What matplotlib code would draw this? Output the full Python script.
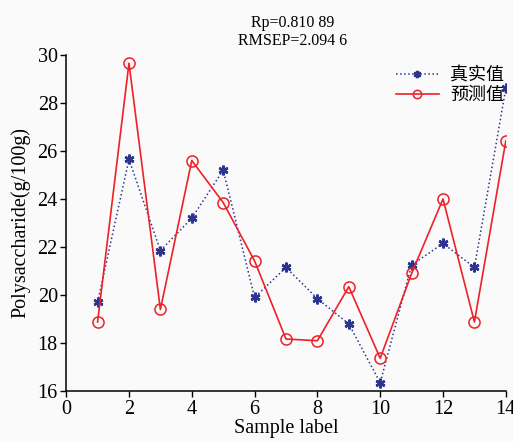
import matplotlib.pyplot as plt

# ── data ──────────────────────────────────────────────────────────────────────
samples = list(range(1, 15))
true_vals = [19.7, 25.65, 21.85, 23.2, 25.2, 19.9, 21.15, 19.85, 18.8, 16.35,
             21.25, 22.15, 21.15, 28.6]
pred_vals = [18.88, 29.65, 19.4, 25.6, 23.85, 21.42, 18.17, 18.1, 20.35, 17.37,
             20.9, 24.0, 18.88, 26.42]
legend_labels = ['真实值', '预测值']
stats_text = 'Rp=0.810 89\nRMSEP=2.094 6'

BLUE = '#2b3590'
RED = '#ee2028'
BG = '#fafafa'
FONT = ['Liberation Serif', 'Noto Sans CJK SC']

plt.rcParams['font.family'] = FONT

fig = plt.figure(figsize=(5.13, 4.42), dpi=100, facecolor=BG)
ax = fig.add_axes([0.129, 0.115, 0.857, 0.761])
ax.set_facecolor(BG)

ax.plot(samples, true_vals, linestyle=':', color=BLUE, lw=1.1,
        marker=(6, 2, 0), markersize=7, markeredgewidth=1.8,
        markeredgecolor=BLUE, label=legend_labels[0])
ax.plot(samples, pred_vals, linestyle='-', color=RED, lw=1.2,
        marker='o', markersize=8, markerfacecolor='none',
        markeredgecolor=RED, markeredgewidth=1.1, label=legend_labels[1])

ax.set_xlim(0, 14)
ax.set_ylim(16, 30)
ax.set_xticks(range(0, 15, 2))
ax.set_yticks(range(16, 31, 2))
ax.tick_params(direction='out', length=4, width=1, labelsize=14.5, pad=2)
for s in ['top', 'right']:
    ax.spines[s].set_visible(False)
for s in ['left', 'bottom']:
    ax.spines[s].set_linewidth(1.1)

ax.set_xlabel('Sample label', fontsize=14.5, labelpad=0)
ax.set_ylabel('Polysaccharide(g/100g)', fontsize=14.5, labelpad=5)

fig.text(0.571, 0.928, stats_text, ha='center', va='center',
         fontsize=11.5, linespacing=1.15)

ax.legend(loc='upper right', bbox_to_anchor=(1.02, 0.995), frameon=False,
          fontsize=13, handlelength=2.4, handletextpad=0.6, markerscale=0.75,
          borderaxespad=0.2, labelspacing=0.15)

fig.savefig('out.png', dpi=100, facecolor=BG)
